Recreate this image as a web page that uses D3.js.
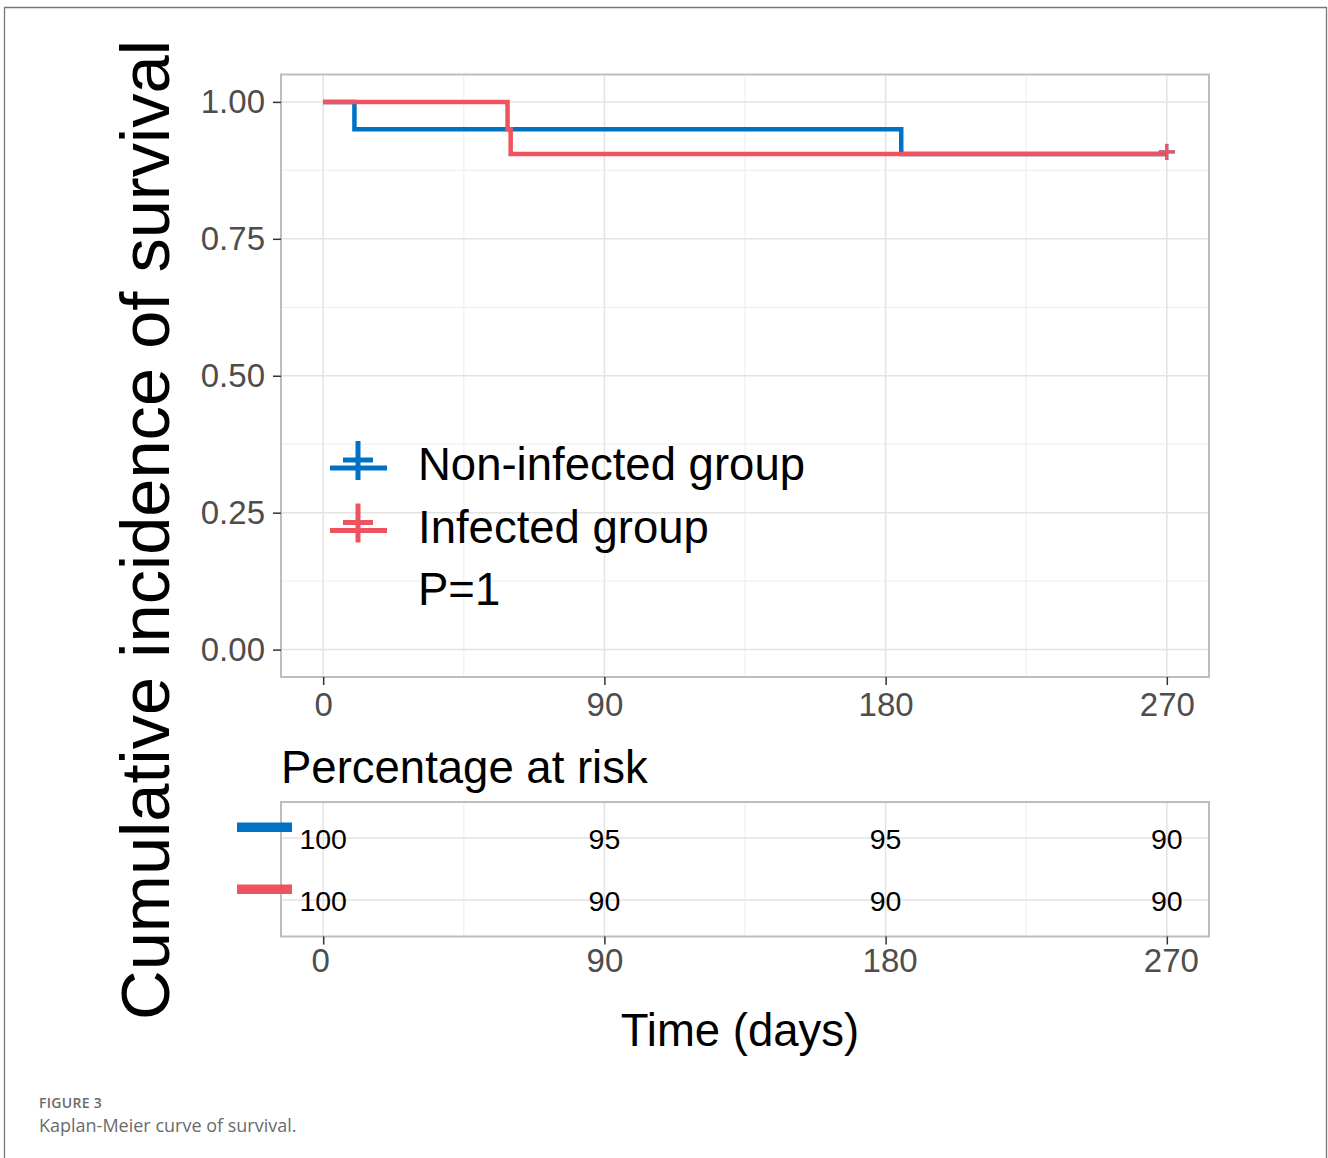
<!DOCTYPE html>
<html>
<head>
<meta charset="utf-8">
<script src="https://cdn.jsdelivr.net/npm/d3@7"></script>
<style>
  html, body { margin: 0; padding: 0; background: #fff; }
  svg { display: block; }
</style>
</head>
<body>
<svg id="chart" width="1328" height="1158"></svg>
<script>
// ---- data ----
const groups = ["Non-infected group", "Infected group"];
const colors = ["#0072C6", "#EE535F"];
const nonInfectedTimes = [0, 10, 185, 270];
const nonInfectedSurv = [1.00, 0.95, 0.905, 0.905];
const infectedTimes = [0, 59, 60, 270];
const infectedSurv = [1.00, 0.95, 0.905, 0.905];
const censorTimes = [270, 270];
const censorSurv = [0.905, 0.905];
const xTicks = [0, 90, 180, 270];
const yTicks = [0, 0.25, 0.5, 0.75, 1.0];
const riskTimes = [0, 90, 180, 270];
const riskNonInfected = [100, 95, 95, 90];
const riskInfected = [100, 90, 90, 90];
const pText = "P=1";

const series = [
  { name: groups[0], color: colors[0], pts: nonInfectedTimes.map((t, i) => [t, nonInfectedSurv[i]]) },
  { name: groups[1], color: colors[1], pts: infectedTimes.map((t, i) => [t, infectedSurv[i]]) }
];

const svg = d3.select("#chart");
const FONT = "'Liberation Sans', Arial, Helvetica, sans-serif";

// outer frame (open at bottom)
svg.append("path")
  .attr("d", "M4.5,1158 L4.5,7.5 L1326.5,7.5 L1326.5,1158")
  .attr("fill", "none").attr("stroke", "#777").attr("stroke-width", 1.3);

// ---- main panel ----
const P = { left: 281, right: 1209, top: 74.5, bottom: 677 };
const x = d3.scaleLinear().domain([-13.5, 283.5]).range([P.left, P.right]);
const y = d3.scaleLinear().domain([-0.05, 1.05]).range([P.bottom, P.top]);

const main = svg.append("g");
const minorX = [45, 135, 225];
const minorY = [0.125, 0.375, 0.625, 0.875];

main.selectAll(".gxm").data(minorX).join("line")
  .attr("x1", d => x(d)).attr("x2", d => x(d)).attr("y1", P.top).attr("y2", P.bottom)
  .attr("stroke", "#f0f0f0").attr("stroke-width", 1.2);
main.selectAll(".gym").data(minorY).join("line")
  .attr("y1", d => y(d)).attr("y2", d => y(d)).attr("x1", P.left).attr("x2", P.right)
  .attr("stroke", "#f0f0f0").attr("stroke-width", 1.2);
main.selectAll(".gx").data(xTicks).join("line")
  .attr("x1", d => x(d)).attr("x2", d => x(d)).attr("y1", P.top).attr("y2", P.bottom)
  .attr("stroke", "#e3e3e3").attr("stroke-width", 1.5);
main.selectAll(".gy").data(yTicks).join("line")
  .attr("y1", d => y(d)).attr("y2", d => y(d)).attr("x1", P.left).attr("x2", P.right)
  .attr("stroke", "#e3e3e3").attr("stroke-width", 1.5);

// curves
const line = d3.line().x(d => x(d[0])).y(d => y(d[1])).curve(d3.curveStepAfter);
series.forEach(s => {
  main.append("path").datum(s.pts).attr("d", line)
    .attr("fill", "none").attr("stroke", s.color).attr("stroke-width", 4.5)
    .attr("stroke-linejoin", "miter");
});
// censor marks
censorTimes.forEach((t, i) => {
  const cx = x(t), cy = y(censorSurv[i]) - 2;
  const g = main.append("g").attr("stroke", series[i].color).attr("stroke-width", 3);
  g.append("line").attr("x1", cx - 8).attr("x2", cx + 8).attr("y1", cy).attr("y2", cy);
  g.append("line").attr("x1", cx).attr("x2", cx).attr("y1", cy - 8).attr("y2", cy + 8);
});

// panel border
main.append("rect").attr("x", P.left).attr("y", P.top)
  .attr("width", P.right - P.left).attr("height", P.bottom - P.top)
  .attr("fill", "none").attr("stroke", "#bdbdbd").attr("stroke-width", 2);

// y axis
const yAxis = d3.axisLeft(y).tickValues(yTicks).tickFormat(d3.format(".2f")).tickSize(8).tickPadding(8);
const yg = main.append("g").attr("transform", `translate(${P.left},0)`).call(yAxis);
yg.select(".domain").remove();
yg.selectAll(".tick line").attr("stroke", "#333").attr("stroke-width", 1.5);
yg.selectAll(".tick text").attr("font-family", FONT).attr("font-size", 33).attr("fill", "#4d4d4d");

// x axis
const xAxis = d3.axisBottom(x).tickValues(xTicks).tickFormat(d3.format("d")).tickSize(8).tickPadding(8);
const xg = main.append("g").attr("transform", `translate(0,${P.bottom})`).call(xAxis);
xg.select(".domain").remove();
xg.selectAll(".tick line").attr("stroke", "#333").attr("stroke-width", 1.5);
xg.selectAll(".tick text").attr("font-family", FONT).attr("font-size", 33).attr("fill", "#4d4d4d");

// y title
svg.append("text")
  .attr("transform", "translate(169,530) rotate(-90)")
  .attr("text-anchor", "middle")
  .attr("font-family", FONT).attr("font-size", 68.6).attr("fill", "#000")
  .text("Cumulative incidence of survival");

// legend
const leg = svg.append("g");
const legBase = [480, 542.5];
series.forEach((s, i) => {
  const b = legBase[i];
  const g = leg.append("g").attr("stroke", s.color).attr("stroke-width", 5);
  g.append("line").attr("x1", 330).attr("x2", 387).attr("y1", b - 12).attr("y2", b - 12);
  g.append("line").attr("x1", 358).attr("x2", 358).attr("y1", b - 39).attr("y2", b);
  g.append("line").attr("x1", 343).attr("x2", 373).attr("y1", b - 20).attr("y2", b - 20);
  leg.append("text").attr("x", 418).attr("y", b)
    .attr("font-family", FONT).attr("font-size", 45.5).attr("fill", "#000").text(s.name);
});
leg.append("text").attr("x", 418).attr("y", 605)
  .attr("font-family", FONT).attr("font-size", 45.5).attr("fill", "#000").text(pText);

// ---- risk table ----
svg.append("text").attr("x", 281).attr("y", 783)
  .attr("font-family", FONT).attr("font-size", 45.5).attr("fill", "#000").text("Percentage at risk");

const R = { left: 281, right: 1209, top: 802, bottom: 936.5 };
const ry = d3.scalePoint().domain(groups).range([838, 900]);
const rt = svg.append("g");
rt.selectAll(".rgxm").data(minorX).join("line")
  .attr("x1", d => x(d)).attr("x2", d => x(d)).attr("y1", R.top).attr("y2", R.bottom)
  .attr("stroke", "#f0f0f0").attr("stroke-width", 1.2);
rt.selectAll(".rgx").data(xTicks).join("line")
  .attr("x1", d => x(d)).attr("x2", d => x(d)).attr("y1", R.top).attr("y2", R.bottom)
  .attr("stroke", "#e3e3e3").attr("stroke-width", 1.5);
rt.selectAll(".rgy").data(groups).join("line")
  .attr("y1", d => ry(d)).attr("y2", d => ry(d)).attr("x1", R.left).attr("x2", R.right)
  .attr("stroke", "#e3e3e3").attr("stroke-width", 1.5);

const riskRows = [riskNonInfected, riskInfected];
riskRows.forEach((row, i) => {
  rt.selectAll(".rv" + i).data(row).join("text")
    .attr("x", (d, j) => x(riskTimes[j])).attr("y", ry(groups[i]) + 11)
    .attr("text-anchor", "middle")
    .attr("font-family", FONT).attr("font-size", 28.5).attr("fill", "#000")
    .text(d => d);
});
rt.append("rect").attr("x", R.left).attr("y", R.top)
  .attr("width", R.right - R.left).attr("height", R.bottom - R.top)
  .attr("fill", "none").attr("stroke", "#bdbdbd").attr("stroke-width", 2);

// colored strata keys
groups.forEach((g, i) => {
  rt.append("rect").attr("x", 237).attr("y", ry(g) - 15.5)
    .attr("width", 55).attr("height", 9.5).attr("fill", colors[i]);
});

const rxAxis = d3.axisBottom(x).tickValues(xTicks).tickFormat(d3.format("d")).tickSize(8).tickPadding(4);
const rxg = rt.append("g").attr("transform", `translate(0,${R.bottom})`).call(rxAxis);
rxg.select(".domain").remove();
rxg.selectAll(".tick line").attr("stroke", "#333").attr("stroke-width", 1.5);
rxg.selectAll(".tick text").attr("font-family", FONT).attr("font-size", 33).attr("fill", "#4d4d4d")
  .attr("dx", (d, j) => [-3, 0, 4, 4][j]);

svg.append("text").attr("x", 740).attr("y", 1046).attr("text-anchor", "middle")
  .attr("font-family", FONT).attr("font-size", 45.5).attr("fill", "#000").text("Time (days)");

// caption
svg.append("text").attr("x", 39).attr("y", 1108)
  .attr("font-family", "'Open Sans', sans-serif").attr("font-size", 14).attr("font-weight", 600)
  .attr("fill", "#6b6b6b").attr("letter-spacing", 0.3).text("FIGURE 3");
svg.append("text").attr("x", 39).attr("y", 1132)
  .attr("font-family", "'Open Sans', sans-serif").attr("font-size", 18)
  .attr("fill", "#6b6b6b").text("Kaplan-Meier curve of survival.");
</script>
</body>
</html>
